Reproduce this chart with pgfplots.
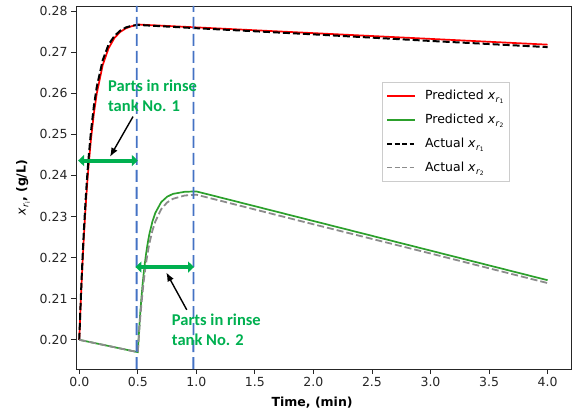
\documentclass[border=0pt]{standalone}
\usepackage{pgfplots}
\pgfplotsset{compat=1.18}
\usepackage{fontspec}
\setmainfont{DejaVu Sans}
\newfontfamily\calib{Carlito}
\usetikzlibrary{arrows.meta}

\definecolor{cRed}{RGB}{255,0,0}
\definecolor{cGreen}{RGB}{44,160,44}
\definecolor{cGray}{RGB}{140,140,140}
\definecolor{cBlue}{RGB}{68,114,196}
\definecolor{cAnnot}{RGB}{0,176,80}

\newcommand\xr[1]{\textit{x}\kern0.3pt\raisebox{-0.4ex}{\fontsize{8.5}{9}\selectfont\textit{r}\raisebox{-0.35ex}{\fontsize{6}{7}\selectfont #1}}}

\pgfplotsset{
  predA/.style={color=cRed, line width=1.7pt},
  predB/.style={color=cGreen, line width=1.7pt},
  actA/.style={color=black, line width=2pt, dash pattern=on 7pt off 3pt},
  actB/.style={color=cGray, line width=1.8pt, dash pattern=on 7pt off 3pt},
}

\begin{document}
\begin{tikzpicture}
\useasboundingbox (-76pt,-46pt) rectangle (496pt,369pt);
\begin{axis}[
  at={(0pt,0pt)}, anchor=south west,
  width=495pt, height=363pt, scale only axis,
  xmin=-0.028, xmax=4.2,
  ymin=0.1929, ymax=0.2812,
  xtick={0,0.5,1,1.5,2,2.5,3,3.5,4},
  ytick={0.20,0.21,0.22,0.23,0.24,0.25,0.26,0.27,0.28},
  xticklabel style={/pgf/number format/.cd,fixed,fixed zerofill,precision=1},
  yticklabel style={/pgf/number format/.cd,fixed,fixed zerofill,precision=2},
  /pgf/number format/assume math mode=true,
  tick label style={font=\fontsize{12.5}{14}\selectfont, text=black!85},
  tick align=outside, tick pos=left, major tick length=5pt,
  tick style={black!85, line width=0.8pt},
  axis line style={black!85, line width=0.8pt},
  xlabel={\textbf{Time, (min)}},
  ylabel={\xr{i}\textbf{, (g/L)}},
  xlabel style={at={(axis description cs:0.477,-0.0937)}, anchor=center, font=\fontsize{12.5}{14}\selectfont},
  ylabel style={at={(axis description cs:-0.107,0.5)}, anchor=center, font=\fontsize{12.5}{14}\selectfont},
  legend cell align=left,
  legend style={at={(axis description cs:0.618,0.791)}, anchor=north west,
    draw=black!20, font=\fontsize{12.5}{14}\selectfont,
    row sep=9pt, column sep=8pt, inner xsep=4pt, inner ysep=6pt},
]
\addplot[predA, forget plot] coordinates {
  (0,0.2000)(0.01,0.2073)(0.02,0.2140)(0.03,0.2200)(0.04,0.2255)(0.05,0.2304)
  (0.06,0.2348)(0.07,0.2389)(0.08,0.2425)(0.10,0.2488)(0.125,0.2551)(0.15,0.2600)
  (0.20,0.2668)(0.25,0.2709)(0.30,0.2734)(0.35,0.2749)(0.40,0.2758)(0.45,0.2763)
  (0.50,0.2767)(1.0,0.2760)(2.0,0.2746)(3.0,0.2732)(4.0,0.2718)};
\addplot[predB, forget plot] coordinates {
  (0,0.2000)(0.5,0.1970)(0.51,0.2019)(0.52,0.2062)(0.53,0.2099)(0.54,0.2132)
  (0.55,0.2161)(0.56,0.2186)(0.57,0.2208)(0.58,0.2227)(0.59,0.2244)(0.60,0.2259)
  (0.625,0.2288)(0.65,0.2309)(0.70,0.2335)(0.75,0.2348)(0.80,0.2355)(0.90,0.2360)
  (1.0,0.2361)(2.0,0.2289)(3.0,0.2217)(4.0,0.2145)};
\addplot[actA, forget plot] coordinates {
  (0,0.2000)(0.01,0.2078)(0.02,0.2149)(0.03,0.2212)(0.04,0.2269)(0.05,0.2320)
  (0.06,0.2366)(0.07,0.2407)(0.08,0.2444)(0.10,0.2507)(0.125,0.2569)(0.15,0.2616)
  (0.20,0.2680)(0.25,0.2718)(0.30,0.2739)(0.35,0.2752)(0.40,0.2760)(0.45,0.2764)
  (0.50,0.2766)(1.0,0.2758)(2.0,0.2743)(3.0,0.2727)(4.0,0.2712)};
\addplot[actB, forget plot] coordinates {
  (0,0.2000)(0.5,0.1970)(0.51,0.2013)(0.52,0.2051)(0.53,0.2084)(0.54,0.2114)
  (0.55,0.2141)(0.56,0.2164)(0.57,0.2186)(0.58,0.2204)(0.59,0.2221)(0.60,0.2236)
  (0.625,0.2266)(0.65,0.2288)(0.70,0.2318)(0.75,0.2334)(0.80,0.2343)(0.90,0.2351)
  (1.0,0.2353)(2.0,0.2281)(3.0,0.2210)(4.0,0.2138)};

% legend: solid entries as thin filled bars, dashed ones as strokes
\addlegendimage{legend image code/.code={\fill[cRed] (0pt,-0.85pt) rectangle (27pt,0.85pt);}}
\addlegendentry{Predicted \xr{1}}
\addlegendimage{legend image code/.code={\fill[cGreen] (0pt,-0.85pt) rectangle (27pt,0.85pt);}}
\addlegendentry{Predicted \xr{2}}
\addlegendimage{legend image code/.code={\draw[black, line width=2pt, dash pattern=on 5pt off 2.5pt] (0pt,0pt) -- (27pt,0pt);}}
\addlegendentry{Actual \xr{1}}
\addlegendimage{legend image code/.code={\draw[cGray, line width=1.8pt, dash pattern=on 5pt off 2.5pt] (0pt,0pt) -- (27pt,0pt);}}
\addlegendentry{Actual \xr{2}}

% rinse tank boundaries
\draw[cBlue, line width=1.8pt, dash pattern=on 12pt off 5pt]
  (axis cs:0.4897,0.1929) -- (axis cs:0.4903,0.2812);
\draw[cBlue, line width=1.8pt, dash pattern=on 12pt off 5pt]
  (axis cs:0.9747,0.1929) -- (axis cs:0.9753,0.2812);

% residence arrows
\draw[cAnnot, line width=4pt, {Triangle[length=6pt,width=11pt]}-{Triangle[length=6pt,width=11pt]}]
  (axis cs:-0.01,0.2436) -- (axis cs:0.50,0.2436);
\draw[cAnnot, line width=4pt, {Triangle[length=6pt,width=11pt]}-{Triangle[length=6pt,width=11pt]}]
  (axis cs:0.48,0.2177) -- (axis cs:0.98,0.2177);

\draw[black, line width=1.4pt, -{Latex[length=9pt,width=7pt]}]
  (axis cs:0.459,0.2543) -- (axis cs:0.262,0.2445);
\draw[black, line width=1.4pt, -{Latex[length=9pt,width=7pt]}]
  (axis cs:0.918,0.2073) -- (axis cs:0.743,0.2164);

\node[anchor=west, align=left, text=cAnnot, inner sep=0pt,
  font=\calib\bfseries\fontsize{16.5}{20}\selectfont]
  at (axis cs:0.245,0.2594) {Parts in rinse\\tank No. 1};
\node[anchor=west, align=left, text=cAnnot, inner sep=0pt,
  font=\calib\bfseries\fontsize{16.5}{20}\selectfont]
  at (axis cs:0.79,0.2024) {Parts in rinse\\tank No. 2};
\end{axis}
\end{tikzpicture}
\end{document}
